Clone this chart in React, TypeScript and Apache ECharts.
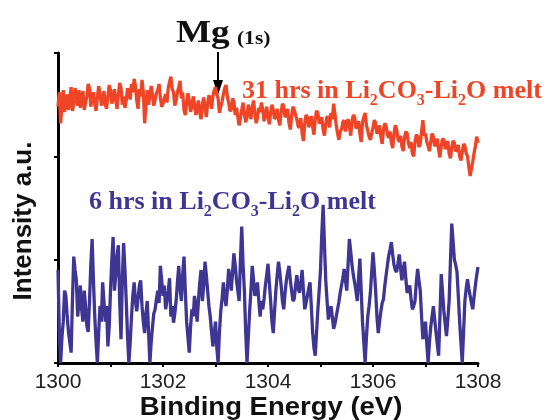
import React, { useEffect, useRef } from 'react';
import * as echarts from 'echarts';

// Binding-energy range (eV) of the scans
const energyStart = 1300;
const energyEnd = 1308;
const xTickValues = [1300, 1301, 1302, 1303, 1304, 1305, 1306, 1307, 1308];

// 31 hrs in Li2CO3-Li2O melt (orange), intensity a.u., evenly spaced over 1300-1308 eV
const melt31h = [
  248, 262, 232, 250, 264, 243, 252, 260, 245, 256, 267, 244, 251, 266, 258, 249, 264, 247, 255, 263,
  245, 252, 258, 270, 266, 248, 256, 262, 251, 244, 257, 268, 261, 249, 254, 263, 250, 246, 258, 269,
  264, 251, 257, 265, 254, 246, 260, 271, 266, 250, 258, 247, 254, 266, 262, 255, 270, 262, 275, 268,
  254, 246, 265, 258, 274, 262, 232, 248, 264, 250, 258, 268, 260, 249, 255, 261, 264, 270, 257, 248,
  251, 256, 260, 252, 266, 272, 277, 265, 262, 249, 254, 262, 267, 273, 256, 262, 245, 240, 252, 261,
  254, 243, 248, 258, 251, 240, 246, 254, 242, 236, 250, 257, 247, 238, 251, 259, 255, 246, 258, 264,
  267, 260, 256, 242, 248, 253, 260, 266, 269, 258, 252, 244, 245, 256, 253, 240, 247, 238, 230, 237,
  245, 252, 241, 233, 238, 250, 244, 236, 248, 254, 242, 232, 238, 247, 243, 252, 245, 234, 240, 248,
  238, 231, 242, 250, 245, 236, 239, 246, 235, 230, 242, 251, 248, 238, 240, 246, 232, 226, 239, 248,
  245, 240, 236, 229, 228, 237, 222, 215, 232, 240, 238, 228, 233, 239, 229, 221, 236, 244, 242, 232,
  233, 238, 226, 220, 231, 239, 235, 228, 242, 236, 251, 241, 230, 222, 216, 224, 226, 233, 235, 224,
  231, 236, 229, 220, 234, 240, 238, 227, 229, 234, 222, 214, 233, 238, 242, 230, 225, 219, 216, 222,
  228, 235, 232, 222, 224, 230, 219, 212, 226, 232, 229, 221, 218, 224, 213, 208, 222, 230, 226, 217,
  214, 220, 210, 205, 218, 224, 222, 213, 208, 214, 203, 200, 214, 221, 219, 209, 212, 224, 235, 220,
  222, 214, 210, 205, 214, 222, 219, 210, 212, 217, 206, 199, 210, 217, 216, 207, 210, 215, 203, 198,
  208, 215, 213, 205, 206, 211, 200, 196, 204, 212, 210, 203, 200, 190, 181, 188, 195, 203, 210, 219,
  213,
];

// 6 hrs in Li2CO3-Li2O melt (blue), intensity a.u., evenly spaced over 1300-1308 eV
const melt6h = [
  90, 30, 0, 25, 40, 70, 65, 45, 30, 20, 10, 60, 103, 90, 80, 45, 60, 75, 52, 40,
  70, 55, 36, 30, 60, 95, 120, 80, 45, 20, 0, 30, 55, 40, 78, 60, 40, 55, 16, 35,
  70, 100, 122, 70, 85, 105, 114, 60, 23, 80, 116, 90, 60, 25, 0, 20, 45, 65, 78, 60,
  50, 62, 75, 80, 55, 40, 29, 48, 60, 30, 0, 20, 35, 48, 52, 62, 70, 58, 94, 80,
  65, 75, 52, 60, 70, 82, 45, 55, 39, 48, 60, 78, 94, 72, 60, 85, 103, 70, 40, 25,
  10, 35, 52, 45, 65, 55, 40, 60, 78, 90, 60, 75, 98, 85, 70, 55, 45, 30, 16, 28,
  40, 15, 0, 30, 50, 62, 78, 65, 55, 70, 91, 82, 70, 88, 106, 95, 80, 70, 60, 100,
  132, 95, 70, 30, 0, 25, 50, 70, 94, 80, 65, 70, 78, 60, 45, 60, 52, 62, 75, 85,
  96, 78, 60, 40, 29, 50, 70, 85, 98, 88, 75, 60, 52, 68, 80, 88, 94, 80, 70, 60,
  62, 75, 85, 72, 68, 78, 90, 70, 52, 58, 65, 72, 78, 55, 30, 15, 7, 30, 52, 70,
  90, 125, 153, 115, 80, 60, 42, 50, 55, 45, 33, 38, 45, 52, 59, 68, 75, 82, 91, 80,
  70, 95, 120, 108, 95, 85, 78, 70, 60, 82, 101, 70, 40, 20, 0, 25, 45, 55, 68, 88,
  107, 90, 70, 45, 29, 40, 50, 58, 62, 75, 85, 95, 104, 110, 117, 105, 95, 90, 88, 96,
  105, 92, 80, 90, 98, 82, 68, 70, 75, 62, 52, 55, 60, 78, 91, 80, 70, 45, 23, 30,
  40, 18, 0, 20, 35, 45, 55, 42, 30, 18, 7, 45, 86, 68, 50, 38, 26, 42, 60, 98,
  135, 118, 100, 95, 88, 65, 40, 20, 0, 30, 60, 72, 81, 72, 65, 58, 52, 64, 75, 85,
  93,
];

const orange = '#ef4526';
const blue = '#3f3694';

function toPairs(values: number[]) {
  const step = (energyEnd - energyStart) / (values.length - 1);
  return values.map((v, i) => [energyStart + i * step, v]);
}

export default function App() {
  const ref = useRef<HTMLDivElement>(null);
  useEffect(() => {
    const chart = echarts.init(ref.current!, null, { renderer: 'svg' });
    const serif = 'Liberation Serif';
    const richFor = (fill: string) => ({
      a: { fontFamily: serif, fontWeight: 'bold', fontSize: 26, fill, lineHeight: 36, verticalAlign: 'middle' },
      b: { fontFamily: serif, fontWeight: 'bold', fontSize: 16, fill, lineHeight: 12, verticalAlign: 'bottom' },
    });
    chart.setOption({
      animation: false,
      grid: { left: 58, right: 68, top: 53, bottom: 57 },
      xAxis: {
        type: 'value',
        min: energyStart,
        max: energyEnd,
        interval: 1,
        axisLine: { lineStyle: { color: '#000', width: 3 } },
        axisTick: { show: true, length: 4, lineStyle: { color: '#000', width: 2 }, customValues: xTickValues },
        axisLabel: {
          margin: 7,
          fontFamily: 'Liberation Sans',
          fontSize: 21,
          color: '#222',
          formatter: (v: number) => (v % 2 === 0 ? String(v) : ''),
        },
        splitLine: { show: false },
      },
      yAxis: {
        type: 'value',
        min: 0,
        max: 300,
        interval: 100,
        axisLine: { show: true, lineStyle: { color: '#000', width: 3 } },
        axisTick: { show: true, length: 4, lineStyle: { color: '#000', width: 2 } },
        axisLabel: { show: false },
        splitLine: { show: false },
      },
      series: [
        {
          type: 'line',
          data: toPairs(melt31h),
          showSymbol: false,
          lineStyle: { color: orange, width: 3.3 },
        },
        {
          type: 'line',
          data: toPairs(melt6h),
          showSymbol: false,
          lineStyle: { color: blue, width: 3.3 },
        },
      ],
      graphic: [
        {
          type: 'text',
          x: 22,
          y: 221,
          rotation: Math.PI / 2,
          style: {
            text: 'Intensity a.u.',
            font: 'bold 26px "Liberation Sans"',
            fill: '#111',
            align: 'center',
            verticalAlign: 'middle',
          },
        },
        {
          type: 'text',
          x: 271,
          y: 406,
          scaleX: 1.1,
          style: {
            text: 'Binding Energy (eV)',
            font: 'bold 25px "Liberation Sans"',
            fill: '#111',
            align: 'center',
            verticalAlign: 'middle',
          },
        },
        {
          type: 'text',
          x: 176,
          y: 47,
          scaleX: 1.2,
          style: {
            text: '{m|Mg}{s|(1s)}',
            verticalAlign: 'bottom',
            rich: {
              m: { fontFamily: serif, fontWeight: 'bold', fontSize: 31, fill: '#111', lineHeight: 34, verticalAlign: 'bottom' },
              s: { fontFamily: serif, fontWeight: 'bold', fontSize: 18, fill: '#111', lineHeight: 25, verticalAlign: 'bottom', padding: [0, 0, 0, 6] },
            },
          },
        },
        {
          type: 'line',
          shape: { x1: 218, y1: 52, x2: 218, y2: 88 },
          style: { stroke: '#000', lineWidth: 2 },
        },
        {
          type: 'polygon',
          shape: { points: [[213, 80], [223, 80], [218, 95]] },
          style: { fill: '#000' },
        },
        {
          type: 'text',
          x: 242,
          y: 89,
          style: {
            text: '{a|31 hrs in Li}{b|2}{a|CO}{b|3}{a|-Li}{b|2}{a|O melt}',
            verticalAlign: 'middle',
            rich: richFor(orange),
          },
        },
        {
          type: 'text',
          x: 89,
          y: 200,
          style: {
            text: '{a|6 hrs in Li}{b|2}{a|CO}{b|3}{a|-Li}{b|2}{a|O melt}',
            verticalAlign: 'middle',
            rich: richFor(blue),
          },
        },
      ],
    });
    return () => chart.dispose();
  }, []);
  return <div ref={ref} style={{ position: 'fixed', left: 0, top: 0, width: 546, height: 420 }} />;
}
